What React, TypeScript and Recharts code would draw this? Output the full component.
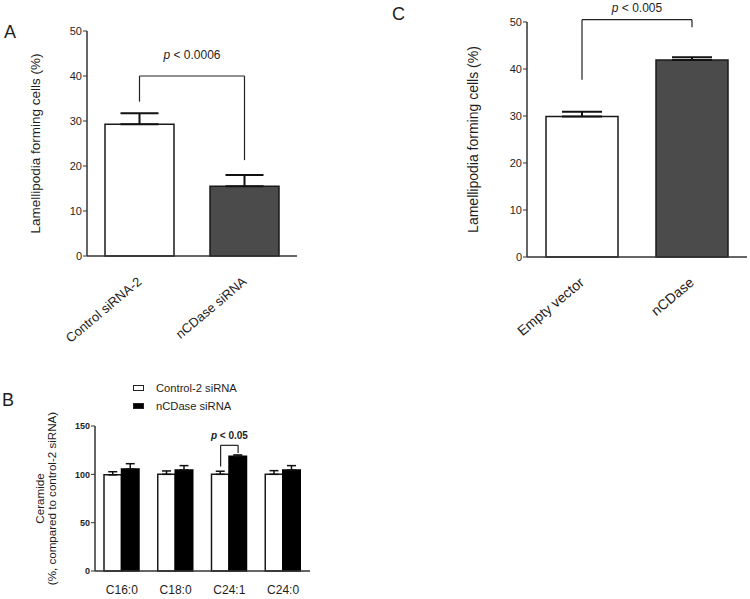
import { BarChart, Bar, XAxis, YAxis, ErrorBar, ReferenceLine, Cell } from 'recharts';

// Panel A: knockdown
const aLabels = ['Control siRNA-2', 'nCDase siRNA'];
const aValues = [29.3, 15.5];
const aErrors = [2.4, 2.5];

// Panel C: overexpression
const cLabels = ['Empty vector', 'nCDase'];
const cValues = [29.9, 41.9];
const cErrors = [1.0, 0.6];

// Panel B: ceramide species
const bSpecies = ['C16:0', 'C18:0', 'C24:1', 'C24:0'];
const bSeries = ['Control-2 siRNA', 'nCDase siRNA'];
const bControl = [99.5, 100, 100, 100];
const bControlErr = [3.2, 3.5, 3.2, 3.8];
const bKnock = [105.5, 104.5, 118.8, 104.5];
const bKnockErr = [5.5, 4.5, 1.3, 4.5];

const pctTicks = [0, 10, 20, 30, 40, 50];
const bTicks = [0, 50, 100, 150];

const dataA = aLabels.map((name, i) => ({ name, value: aValues[i], err: [0, aErrors[i]] }));
const dataC = cLabels.map((name, i) => ({ name, value: cValues[i], err: [0, cErrors[i]] }));
const dataB = bSpecies.map((name, i) => ({
  name,
  ctrl: bControl[i],
  ctrlErr: [0, bControlErr[i]],
  kd: bKnock[i],
  kdErr: [0, bKnockErr[i]],
}));

const FONT = '"Liberation Sans", Arial, sans-serif';
const INK = '#1e1e1e';
const AXIS = '#333';
const DARK = '#4b4b4b';
const B_BAR = 17.5;

function RotTitle(props: any) {
  const { viewBox, lines, xs, size } = props;
  const cy = viewBox.y + viewBox.height / 2;
  return (
    <g>
      {lines.map((t: string, i: number) => (
        <text
          key={i}
          x={xs[i]}
          y={cy}
          transform={`rotate(-90, ${xs[i]}, ${cy})`}
          textAnchor="middle"
          dominantBaseline="central"
          fontSize={size}
          fill={INK}
          fontFamily={FONT}
        >
          {t}
        </text>
      ))}
    </g>
  );
}

function SlantTick(props: any) {
  const { x, y, payload, size } = props;
  return (
    <g transform={`translate(${x + 3},${y + 27})`}>
      <text textAnchor="end" transform="rotate(-40)" fontSize={size} fill={INK} fontFamily={FONT}>
        {payload.value}
      </text>
    </g>
  );
}

function FlatTick(props: any) {
  const { x, y, payload } = props;
  return (
    <text x={x} y={y + 23} textAnchor="middle" fontSize={12} fill={INK} fontFamily={FONT}>
      {payload.value}
    </text>
  );
}

function PLabel(props: any) {
  const { viewBox, text, lift, size, bold } = props;
  const cx = viewBox.x + viewBox.width / 2;
  return (
    <text
      x={cx}
      y={viewBox.y - lift}
      textAnchor="middle"
      fontSize={size}
      fontWeight={bold ? 'bold' : 'normal'}
      fill={INK}
      fontFamily={FONT}
    >
      <tspan fontStyle="italic">p</tspan> {text}
    </text>
  );
}

// line shifted sideways by dx, used for the B bracket over the two bars of one group
function ShiftedLine(props: any) {
  const { x1, y1, x2, y2, dx = 0, dx2 } = props;
  return (
    <line x1={x1 + dx} y1={y1} x2={x2 + (dx2 ?? dx)} y2={y2} stroke="#222" strokeWidth={1.2} />
  );
}

function BLegend() {
  const fills = ['#fff', '#000'];
  return (
    <div style={{ position: 'absolute', left: 133, top: 379, fontFamily: FONT, fontSize: 11.2, color: INK }}>
      {bSeries.map((label, i) => (
        <div key={label} style={{ display: 'flex', alignItems: 'center', height: 18 }}>
          <span
            style={{
              display: 'inline-block',
              width: 9,
              height: 4,
              background: fills[i],
              border: '1px solid #222',
              marginRight: 12,
            }}
          />
          {label}
        </div>
      ))}
    </div>
  );
}

const seg = { stroke: '#222', strokeWidth: 1.2, ifOverflow: 'visible' as const };

function Letter({ ch, x, y }: { ch: string; x: number; y: number }) {
  return (
    <div style={{ position: 'absolute', left: x, top: y, fontFamily: FONT, fontSize: 18, color: INK, lineHeight: 1 }}>
      {ch}
    </div>
  );
}

export default function App() {
  const half = B_BAR / 2;
  return (
    <div style={{ position: 'absolute', left: 0, top: 0, width: 750, height: 599, background: '#fff', overflow: 'hidden' }}>
      <Letter ch="A" x={4} y={23} />
      <Letter ch="C" x={392} y={5} />
      <Letter ch="B" x={2} y={391} />

      <div style={{ position: 'absolute', left: 0, top: 0 }}>
        <BarChart width={310} height={360} data={dataA} margin={{ top: 31, right: 13, bottom: 0, left: 0 }}>
          <XAxis
            dataKey="name"
            height={104}
            tickLine={false}
            tickSize={0}
            tickMargin={0}
            axisLine={{ stroke: AXIS, strokeWidth: 1.5 }}
            tick={<SlantTick size={13} />}
            interval={0}
          />
          <YAxis
            width={87}
            domain={[0, 50]}
            ticks={pctTicks}
            tickSize={4}
            tickMargin={1}
            axisLine={{ stroke: AXIS, strokeWidth: 1.5 }}
            tickLine={{ stroke: AXIS }}
            tick={{ fontSize: 11, fill: INK, fontFamily: FONT }}
            label={(p: any) => <RotTitle {...p} lines={['Lamellipodia forming cells (%)']} xs={[35]} size={13.5} />}
          />
          <Bar dataKey="value" barSize={69} stroke="#1a1a1a" strokeWidth={1.5} isAnimationActive={false}>
            {dataA.map((d, i) => (
              <Cell key={d.name} fill={i === 0 ? '#fff' : DARK} />
            ))}
            <ErrorBar dataKey="err" direction="y" width={19} stroke="#111" strokeWidth={2} />
          </Bar>
          <ReferenceLine segment={[{ x: aLabels[0], y: 40 }, { x: aLabels[1], y: 40 }]} {...seg}
            label={(p: any) => <PLabel {...p} text="< 0.0006" lift={17} size={12} />} />
          <ReferenceLine segment={[{ x: aLabels[0], y: 40 }, { x: aLabels[0], y: 34.3 }]} {...seg} />
          <ReferenceLine segment={[{ x: aLabels[1], y: 40 }, { x: aLabels[1], y: 21.3 }]} {...seg} />
        </BarChart>
      </div>

      <div style={{ position: 'absolute', left: 440, top: 0 }}>
        <BarChart width={310} height={360} data={dataC} margin={{ top: 22, right: 3, bottom: 0, left: 0 }}>
          <XAxis
            dataKey="name"
            height={103}
            tickLine={false}
            tickSize={0}
            tickMargin={0}
            axisLine={{ stroke: AXIS, strokeWidth: 1.5 }}
            tick={<SlantTick size={14} />}
            interval={0}
          />
          <YAxis
            width={87}
            domain={[0, 50]}
            ticks={pctTicks}
            tickSize={4}
            tickMargin={1}
            axisLine={{ stroke: AXIS, strokeWidth: 1.5 }}
            tickLine={{ stroke: AXIS }}
            tick={{ fontSize: 11, fill: INK, fontFamily: FONT }}
            label={(p: any) => <RotTitle {...p} lines={['Lamellipodia forming cells (%)']} xs={[33]} size={14} />}
          />
          <Bar dataKey="value" barSize={72} stroke="#1a1a1a" strokeWidth={1.5} isAnimationActive={false}>
            {dataC.map((d, i) => (
              <Cell key={d.name} fill={i === 0 ? '#fff' : DARK} />
            ))}
            <ErrorBar dataKey="err" direction="y" width={20} stroke="#111" strokeWidth={2} />
          </Bar>
          <ReferenceLine segment={[{ x: cLabels[0], y: 50.5 }, { x: cLabels[1], y: 50.5 }]} {...seg}
            label={(p: any) => <PLabel {...p} text="< 0.005" lift={8} size={12} />} />
          <ReferenceLine segment={[{ x: cLabels[0], y: 50.5 }, { x: cLabels[0], y: 37.7 }]} {...seg} />
          <ReferenceLine segment={[{ x: cLabels[1], y: 50.5 }, { x: cLabels[1], y: 48.9 }]} {...seg} />
        </BarChart>
      </div>

      <div style={{ position: 'absolute', left: 0, top: 330 }}>
        <BarChart width={330} height={269} data={dataB} barGap={0} margin={{ top: 96, right: 20, bottom: 0, left: 0 }}>
          <XAxis
            dataKey="name"
            height={28}
            tickLine={false}
            tickSize={0}
            tickMargin={0}
            axisLine={{ stroke: AXIS, strokeWidth: 1.5 }}
            tick={<FlatTick />}
            interval={0}
          />
          <YAxis
            width={95}
            domain={[0, 150]}
            ticks={bTicks}
            tickSize={4}
            tickMargin={1}
            axisLine={{ stroke: AXIS, strokeWidth: 1.5 }}
            tickLine={{ stroke: AXIS }}
            tick={{ fontSize: 9, fontWeight: 'bold', fill: INK, fontFamily: FONT }}
            label={(p: any) => (
              <RotTitle {...p} lines={['Ceramide', '(%, compared to control-2 siRNA)']} xs={[39, 51]} size={11.6} />
            )}
          />
          <Bar dataKey="ctrl" name={bSeries[0]} barSize={B_BAR} fill="#fff" stroke="#1a1a1a" strokeWidth={1.5} isAnimationActive={false}>
            <ErrorBar dataKey="ctrlErr" direction="y" width={4.5} stroke="#111" strokeWidth={1.5} />
          </Bar>
          <Bar dataKey="kd" name={bSeries[1]} barSize={B_BAR} fill="#000" stroke="#000" strokeWidth={1.5} isAnimationActive={false}>
            <ErrorBar dataKey="kdErr" direction="y" width={4.5} stroke="#111" strokeWidth={1.5} />
          </Bar>
          <ReferenceLine segment={[{ x: 'C24:1', y: 130 }, { x: 'C24:1', y: 130 }]} ifOverflow="visible"
            shape={(p: any) => <ShiftedLine {...p} dx={-half} dx2={half} />}
            label={(p: any) => <PLabel {...p} text="< 0.05" lift={6} size={10} bold />} />
          <ReferenceLine segment={[{ x: 'C24:1', y: 130 }, { x: 'C24:1', y: 108 }]} ifOverflow="visible"
            shape={(p: any) => <ShiftedLine {...p} dx={-half} />} />
          <ReferenceLine segment={[{ x: 'C24:1', y: 130 }, { x: 'C24:1', y: 122 }]} ifOverflow="visible"
            shape={(p: any) => <ShiftedLine {...p} dx={half} />} />
        </BarChart>
      </div>
      <BLegend />
    </div>
  );
}
